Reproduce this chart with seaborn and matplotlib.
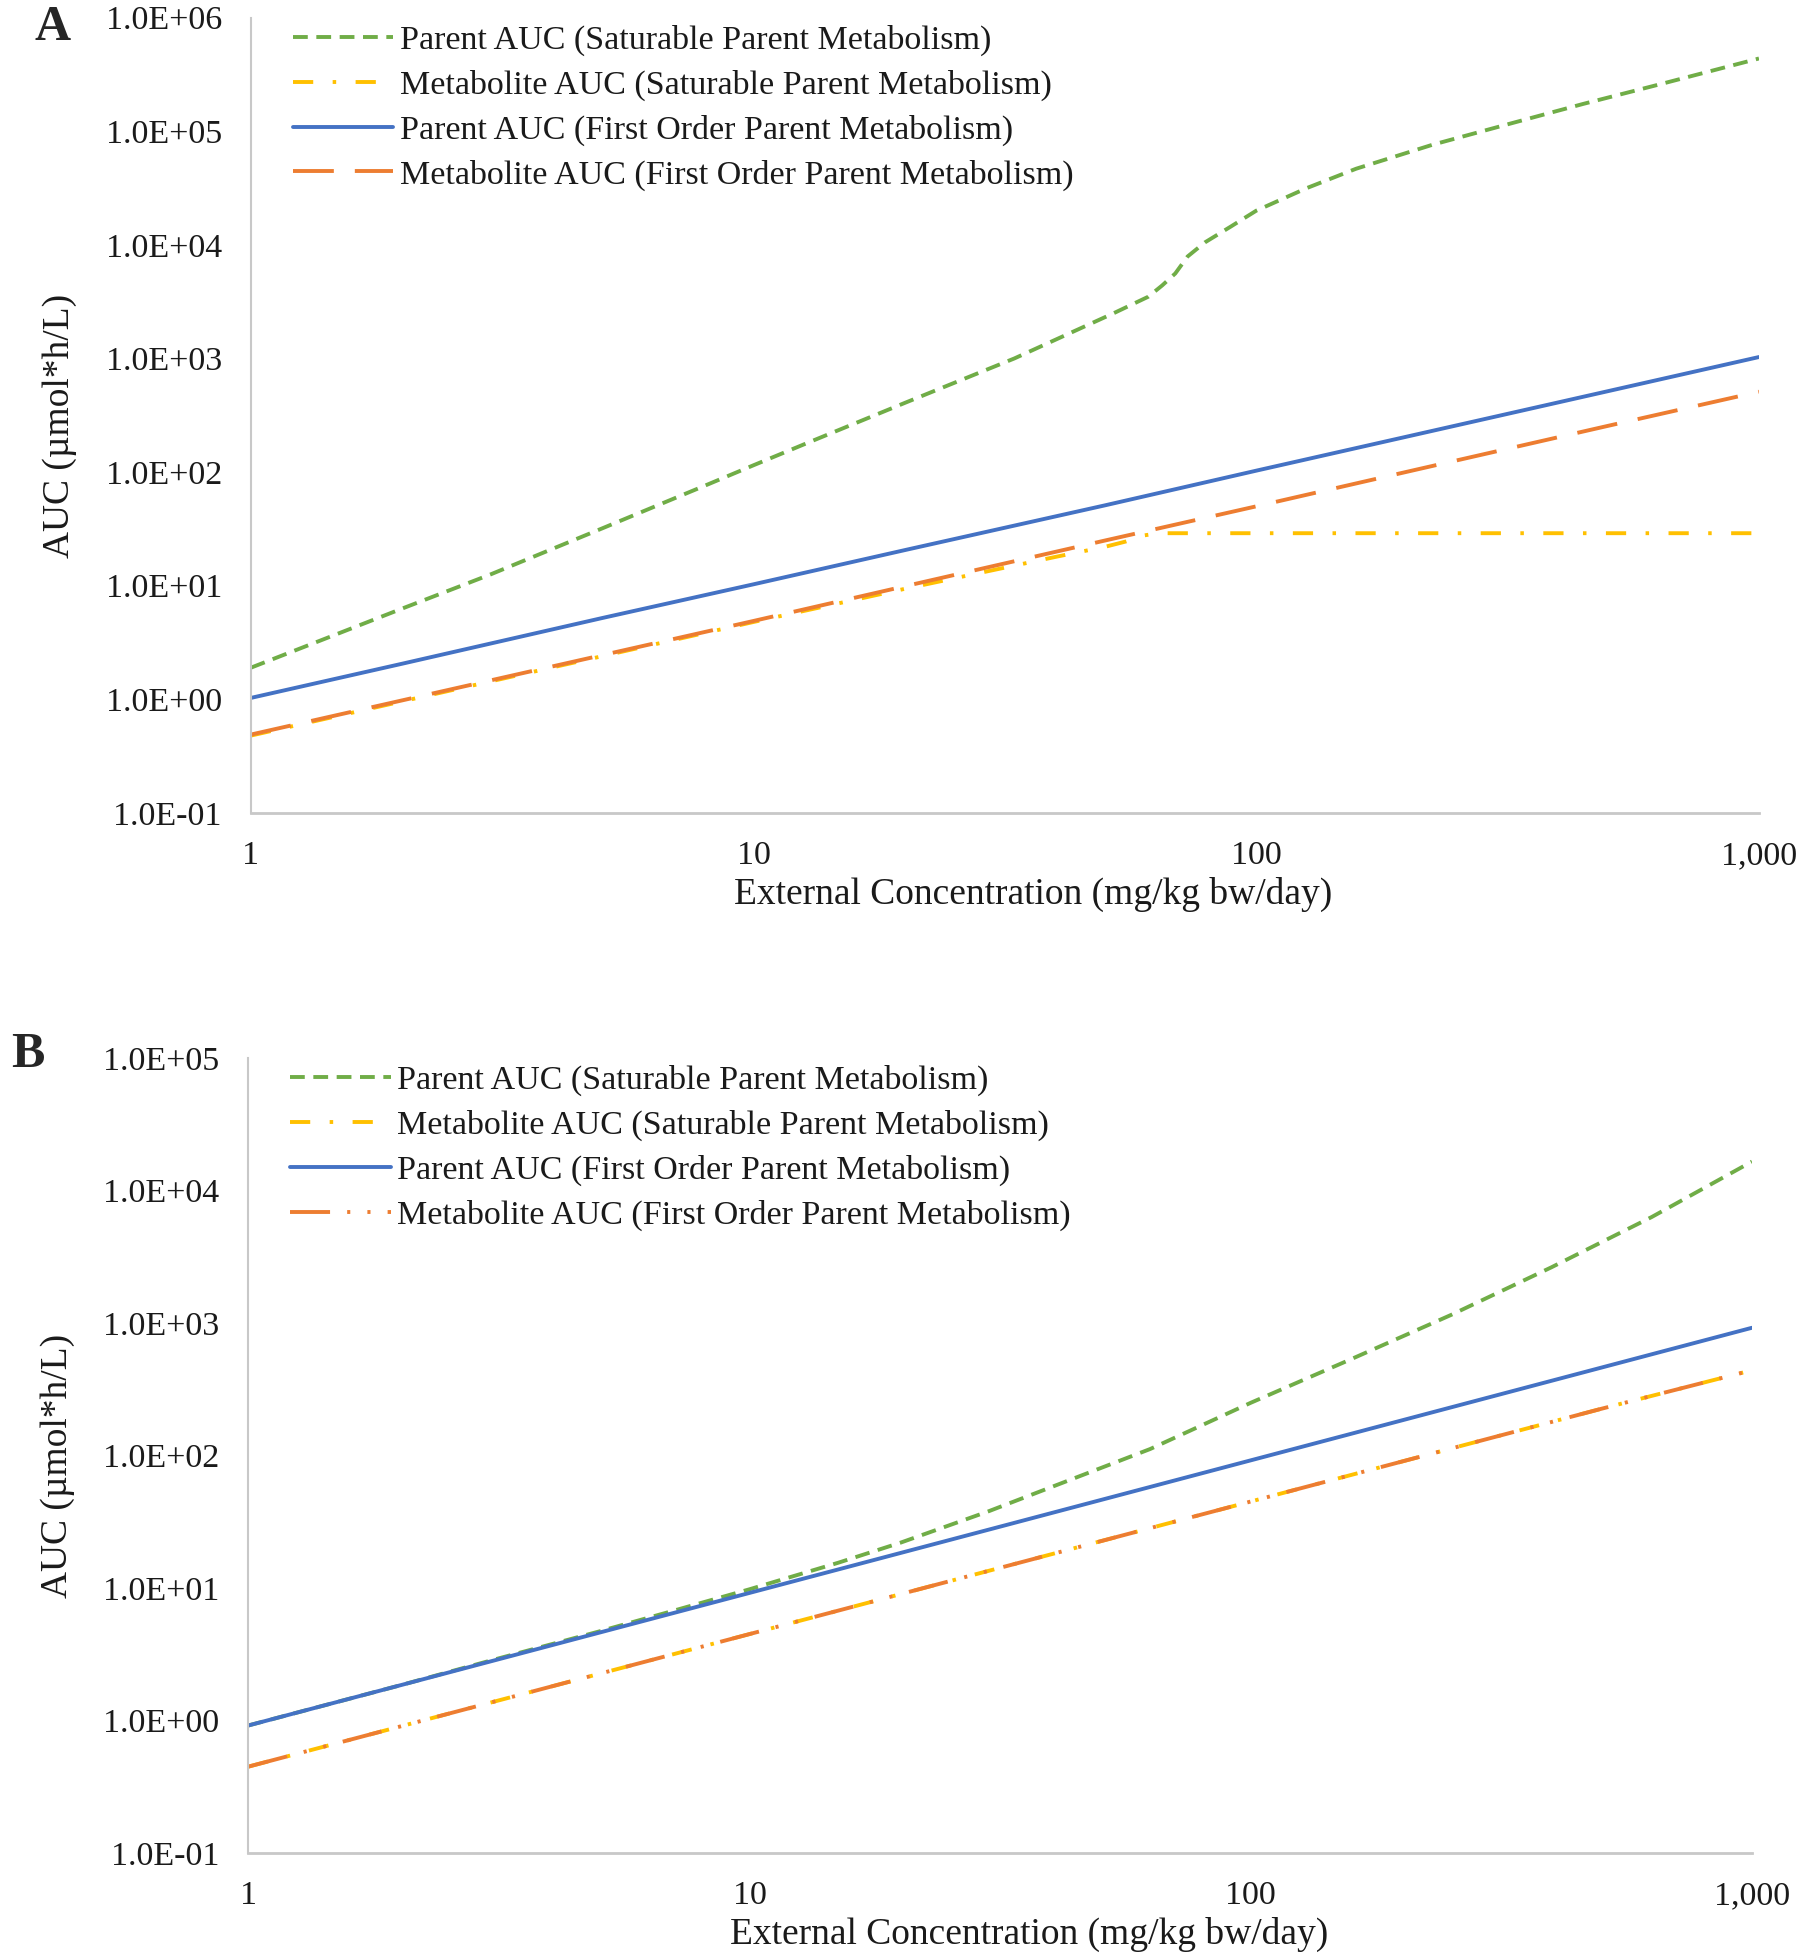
import numpy as np
import pandas as pd
import matplotlib
matplotlib.use("Agg")
import matplotlib.pyplot as plt
import seaborn as sns
from matplotlib.ticker import FixedLocator, FuncFormatter, LogLocator, NullFormatter

# Panel A data
dose_a = [1, 2, 5, 10, 20, 50, 100, 200, 500, 1000]
parent_fo_a = [1.03, 2.06, 5.2, 10.3, 20.6, 51, 103, 206, 515, 1030]
metab_fo_a = [0.49, 0.98, 2.45, 4.9, 9.9, 25, 50, 101, 255, 510]

dose_sat_a = [1, 2, 3, 5, 8, 10, 13, 20, 33, 52, 61, 65, 69, 73, 79, 89, 100, 126, 158,
              224, 316, 447, 631, 1000]
parent_sat_a = [1.9, 6.3, 12.6, 32, 76, 115, 186, 407, 1000, 2500, 3500, 4400, 5600, 7900,
                10500, 14500, 20000, 31600, 46800, 76000, 115000, 174000, 257000, 437000]

dose_msat_a = [1, 2, 5, 10, 20, 40, 50, 55, 60, 64, 100, 200, 500, 1000]
metab_sat_a = [0.48, 0.96, 2.4, 4.8, 9.4, 18.0, 22.0, 24.5, 27.8, 29, 29, 29, 29, 29]

# Panel B data
dose_b = [1, 2, 5, 10, 20, 50, 100, 200, 500, 1000]
parent_fo_b = [0.92, 1.84, 4.6, 9.2, 18.4, 46, 92, 184, 460, 920]
metab_fo_b = [0.45, 0.9, 2.25, 4.5, 9.0, 22.5, 45, 90, 225, 440]
metab_sat_b = [0.45, 0.9, 2.25, 4.5, 9.0, 22.5, 45, 90, 225, 440]

dose_sat_b = [1, 2, 3, 5, 7, 10, 15, 20, 30, 50, 63, 100, 158, 251, 398, 631, 1000]
parent_sat_b = [0.92, 1.84, 2.8, 4.7, 6.7, 9.8, 15.5, 22, 38, 80, 112, 250, 530, 1150,
                2630, 6300, 16500]

labels = ["Parent AUC (Saturable Parent Metabolism)",
          "Metabolite AUC (Saturable Parent Metabolism)",
          "Parent AUC (First Order Parent Metabolism)",
          "Metabolite AUC (First Order Parent Metabolism)"]

green = "#70AD47"
yellow = "#FFC000"
blue = "#4472C4"
orange = "#ED7D31"
text_col = "#1a1a1a"

sns.set_style("white")
plt.rcParams["font.family"] = ["Liberation Serif", "DejaVu Serif"]

fig = plt.figure(figsize=(18, 19.59), dpi=100)
ax_a = fig.add_axes([0.1394, 0.585, 0.8378, 0.406])
ax_b = fig.add_axes([0.138, 0.054, 0.8353, 0.406])

lw = 2.8


def draw(ax, x, y, color, ls, label):
    df = pd.DataFrame({"x": x, "y": y})
    sns.lineplot(data=df, x="x", y="y", ax=ax, color=color, linestyle=ls,
                 linewidth=lw, label=label)


# Panel A
draw(ax_a, dose_sat_a, parent_sat_a, green, (0, (3.8, 2.2)), labels[0])
draw(ax_a, dose_msat_a, metab_sat_a, yellow, (0, (5.2, 5.0, 0.9, 5.0)), labels[1])
draw(ax_a, dose_a, parent_fo_a, blue, "-", labels[2])
draw(ax_a, dose_a, metab_fo_a, orange, (0, (10.5, 5.4)), labels[3])

# Panel B
draw(ax_b, dose_sat_b, parent_sat_b, green, (0, (3.8, 2.2)), labels[0])
draw(ax_b, dose_b, metab_sat_b, yellow, (0, (5.2, 5.0, 0.9, 5.0)), labels[1])
draw(ax_b, dose_b, parent_fo_b, blue, "-", labels[2])
draw(ax_b, dose_b, metab_fo_b, orange, (0, (10.3, 4.4, 0.8, 4.4, 0.8, 4.4)), labels[3])


def style_axis(ax, ymin, ymax):
    ax.set_xscale("log")
    ax.set_yscale("log")
    ax.set_xlim(1, 1000)
    ax.set_ylim(ymin, ymax)
    decades = [10.0 ** k for k in range(int(np.log10(ymin)), int(np.log10(ymax)) + 1)]
    ax.yaxis.set_major_locator(FixedLocator(decades))
    ax.yaxis.set_major_formatter(FuncFormatter(lambda v, p: f"{v:.1E}"))
    ax.yaxis.set_minor_locator(LogLocator(base=10, subs=np.arange(2, 10), numticks=20))
    ax.yaxis.set_minor_formatter(NullFormatter())
    ax.xaxis.set_major_locator(FixedLocator([1, 10, 100, 1000]))
    ax.xaxis.set_major_formatter(FuncFormatter(lambda v, p: f"{v:,.0f}"))
    ax.xaxis.set_minor_locator(LogLocator(base=10, subs=np.arange(2, 10), numticks=20))
    ax.xaxis.set_minor_formatter(NullFormatter())
    for s in ["top", "right"]:
        ax.spines[s].set_visible(False)
    for s in ["left", "bottom"]:
        ax.spines[s].set_color("#C8C8C8")
        ax.spines[s].set_linewidth(2)
    ax.spines["left"].set_linewidth(1.5)
    ax.tick_params(axis="both", which="major", direction="out", length=6, width=1.5,
                   color="#C8C8C8", labelsize=24.5, labelcolor=text_col)
    ax.tick_params(axis="both", which="minor", direction="out", length=5, width=1.5,
                   color="#C8C8C8")
    ax.tick_params(axis="y", which="major", pad=15)
    ax.tick_params(axis="x", which="major", pad=14)
    ax.set_xlabel("External Concentration (mg/kg bw/day)", fontsize=27, color=text_col,
                  labelpad=4)
    ax.xaxis.label.set_x(0.519)
    ax.set_ylabel("AUC (µmol*h/L)", fontsize=27, color=text_col)
    ax.yaxis.set_label_coords(-0.115, 0.487)
    ax.legend(loc="upper left", bbox_to_anchor=(0.028, 0.991), frameon=False, fontsize=24.5,
              handlelength=2.94, handletextpad=0.2, labelspacing=0.4, borderaxespad=0,
              borderpad=0, labelcolor=text_col)


style_axis(ax_a, 0.1, 1e6)
style_axis(ax_b, 0.1, 1e5)

fig.text(0.029, 0.9857, "A", fontsize=36, fontweight="bold", va="center", ha="center")
fig.text(0.0153, 0.4615, "B", fontsize=36, fontweight="bold", va="center", ha="center")

fig.savefig("out.png", dpi=100)
